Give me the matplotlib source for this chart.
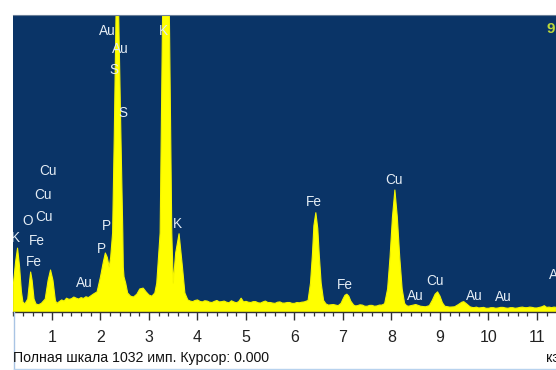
import matplotlib
matplotlib.use("Agg")
import matplotlib.pyplot as plt
from matplotlib.lines import Line2D
from matplotlib.ticker import MultipleLocator

# ---- spectrum (energy in keV, counts) ----
energy_kev = [
    # C / O / Fe-L / Cu-L region
    0.20, 0.25, 0.29, 0.33, 0.37, 0.40, 0.44, 0.50, 0.54, 0.56, 0.59, 0.63, 0.67,
    0.72, 0.78, 0.86, 0.92, 0.97, 1.02, 1.07,
    # background up to P
    1.10, 1.15, 1.20, 1.25, 1.30, 1.35, 1.40, 1.45, 1.50, 1.55, 1.60, 1.65, 1.70,
    1.75, 1.80, 1.86, 1.93,
    # P, Au-M / S, K
    2.00, 2.06, 2.10, 2.14, 2.18, 2.21, 2.25, 2.285, 2.32,
    2.35, 2.375, 2.42, 2.46, 2.47, 2.485, 2.52, 2.56, 2.62, 2.68, 2.75, 2.81, 2.88,
    2.94, 3.00, 3.06, 3.12, 3.16, 3.23, 3.28, 3.35, 3.42, 3.47, 3.50, 3.55, 3.62,
    3.69, 3.74,
    # background to Fe
    3.80, 3.85, 3.90, 3.95, 4.00, 4.05, 4.10, 4.15, 4.20, 4.25, 4.30, 4.35, 4.40,
    4.45, 4.50, 4.55, 4.60, 4.65, 4.70, 4.75, 4.80, 4.85, 4.90, 4.95, 5.00, 5.05,
    5.10, 5.15, 5.20, 5.25, 5.30, 5.35, 5.40, 5.45, 5.50, 5.55, 5.60, 5.65, 5.70,
    5.75, 5.80, 5.85, 5.90, 5.95, 6.00, 6.05, 6.10, 6.15, 6.20,
    # Fe K-alpha, K-beta
    6.28, 6.33, 6.37, 6.40, 6.44, 6.48, 6.51, 6.55, 6.60, 6.65, 6.70,
    6.80, 6.90, 6.96, 7.00, 7.04, 7.08, 7.12, 7.16,
    7.22, 7.26, 7.30, 7.35, 7.40, 7.45, 7.50, 7.55, 7.60, 7.65, 7.70, 7.75, 7.80,
    7.84,
    # Cu K-alpha, K-beta, Au-L
    7.86, 7.92, 7.97, 8.02, 8.07, 8.12, 8.17, 8.22, 8.27, 8.31,
    8.35, 8.45, 8.50, 8.60, 8.70, 8.78, 8.84, 8.90, 8.95, 9.00, 9.05, 9.10, 9.20,
    9.30, 9.38, 9.45, 9.49, 9.55,
    9.62, 9.66, 9.70, 9.75, 9.80, 9.85, 9.90, 9.95, 10.00, 10.05, 10.10, 10.15,
    10.20, 10.25, 10.30, 10.35, 10.40, 10.45, 10.50, 10.55, 10.60, 10.65, 10.70,
    10.75, 10.80, 10.85, 10.90, 10.95, 11.00, 11.05, 11.10, 11.15, 11.20, 11.25,
    11.30, 11.35, 11.40,
]
counts = [
    90, 175, 222, 160, 70, 35, 28, 45, 110, 139, 110, 45, 28,
    25, 30, 45, 110, 146, 110, 40,
    30, 36, 42, 38, 48, 44, 46, 52, 48, 45, 50, 47, 53,
    50, 56, 63, 70,
    122, 175, 205, 190, 156, 190, 275, 622, 1032,
    1145, 1032, 622, 275, 156, 122, 100, 66, 55, 52, 62, 80, 83,
    70, 59, 55, 66, 100, 275, 1032, 1900, 1032, 275, 100, 205, 272,
    156, 66,
    42, 38, 36, 40, 42, 37, 35, 39, 38, 34, 33, 37, 40,
    35, 36, 38, 34, 32, 39, 35, 32, 36, 48, 35, 37, 34,
    33, 36, 36, 32, 31, 35, 38, 33, 33, 31, 30, 34, 35,
    31, 31, 33, 33, 30, 30, 33, 32, 34, 35,
    40, 100, 200, 300, 345, 290, 200, 100, 40, 28, 24,
    26, 22, 30, 45, 58, 62, 55, 38,
    24, 21, 22, 25, 24, 20, 20, 23, 23, 20, 21, 24, 24,
    27,
    30, 80, 190, 330, 424, 330, 190, 80, 30, 22,
    20, 24, 26, 20, 18, 22, 40, 62, 70, 55, 32, 20, 17,
    18, 26, 34, 36, 28,
    18, 16, 15, 17, 14, 15, 16, 13, 13, 15, 15, 13,
    14, 16, 16, 14, 13, 15, 15, 13, 14, 16, 17,
    15, 15, 17, 16, 14, 14, 16, 18, 22, 16, 17,
    15, 17, 16,
]

full_scale = 1032
tick_values = [1, 2, 3, 4, 5, 6, 7, 8, 9, 10, 11]
tick_labels = ["1", "2", "3", "4", "5", "6", "7", "8", "9", "10", "11"]

# element labels (text, keV, counts)
label_text = ["Au", "Au", "S", "S", "K", "K", "P", "P", "Au", "K", "O",
              "Cu", "Cu", "Cu", "Fe", "Fe", "Fe", "Fe", "Cu", "Au", "Cu",
              "Au", "Au", "Au"]
label_kev = [2.144, 2.402, 2.278, 2.464, 3.289, 3.577, 2.113, 2.010, 1.660,
             0.241, 0.505, 0.918, 0.814, 0.835, 0.691, 0.629, 6.402, 7.041,
             8.052, 8.485, 8.897, 9.701, 10.299, 11.412]
label_counts = [976, 914, 841, 692, 976, 306, 299, 219, 101, 257, 316, 490,
                407, 330, 247, 174, 382, 94, 459, 56, 108, 56, 52, 129]

status_text = "Полная шкала 1032 имп. Курсор: 0.000"
unit_text = "кэВ"
corner_text = "9"

W, H = 556, 370
fig = plt.figure(figsize=(W / 100, H / 100), dpi=100)
fig.patch.set_facecolor("white")

ax_left, ax_top, ax_bottom = 13, 15, 312
ax = fig.add_axes([ax_left / W, 1 - ax_bottom / H, 1 - ax_left / W,
                   (ax_bottom - ax_top) / H])
ax.set_facecolor("#0a3467")

ax.fill_between(energy_kev, 0, counts, color="#ffff00", linewidth=0.8,
                edgecolor="#f4f400", zorder=2)

ax.set_xlim(0.196, 11.392)
ax.set_ylim(0, full_scale)

for t, xk, yc in zip(label_text, label_kev, label_counts):
    ax.text(xk, yc, t, ha="center", va="center", fontsize=9.8,
            family="Liberation Sans", color="#e4ecf4", zorder=3, clip_on=True)

ax.text(11.29, 985, corner_text, ha="center", va="center", fontsize=11,
        fontweight="bold", family="Liberation Sans", color="#bcd83a",
        zorder=3, clip_on=True)

ax.set_xticks(tick_values)
ax.set_xticklabels(tick_labels, family="Liberation Sans", fontsize=11.5,
                   color="#222222")
ax.xaxis.set_minor_locator(MultipleLocator(0.2))
ax.tick_params(axis="x", which="major", length=5.5, width=1.0,
               color="#333333", direction="out", pad=7.5)
ax.tick_params(axis="x", which="minor", length=3.0, width=0.9,
               color="#333333", direction="out")
ax.set_yticks([])
for s in ("left", "right"):
    ax.spines[s].set_visible(False)
ax.spines["top"].set_color("#6a7f98")
ax.spines["top"].set_linewidth(0.8)
ax.spines["bottom"].set_color("#333333")
ax.spines["bottom"].set_linewidth(1.0)

fig.text(13 / W, 1 - 358 / H, status_text, ha="left", va="center",
         fontsize=10.2, family="Liberation Sans", color="#111111")
fig.text(546 / W, 1 - 358 / H, unit_text, ha="left", va="center",
         fontsize=10.2, family="Liberation Sans", color="#111111")

# light-blue window border below the plot
fig.add_artist(Line2D([13.5 / W, 13.5 / W], [0, 1 - ax_bottom / H],
                      color="#a9c4e4", linewidth=1.0))
fig.add_artist(Line2D([13.5 / W, 1], [1.5 / H, 1.5 / H],
                      color="#b8d2ee", linewidth=1.0))

fig.savefig("out.png", dpi=100, facecolor="white")
